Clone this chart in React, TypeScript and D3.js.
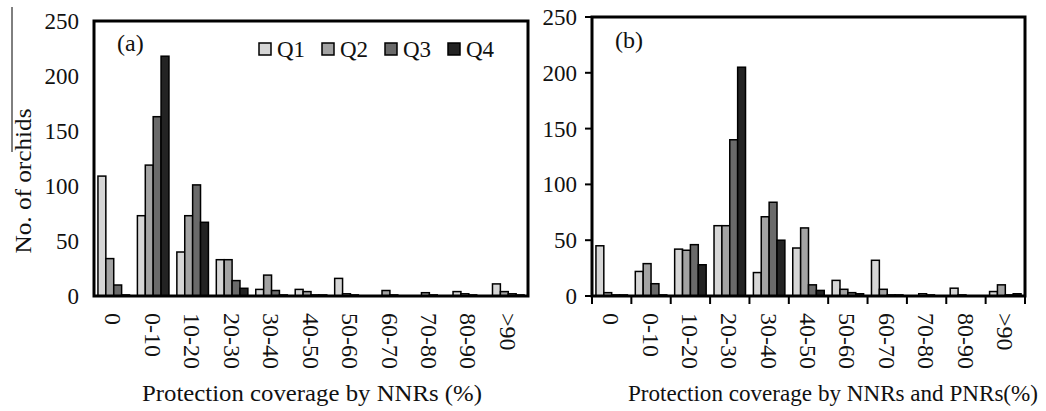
import React from 'react'
import * as d3 from 'd3'

const width = 1046
const height = 411

const categories = ['0', '0-10', '10-20', '20-30', '30-40', '40-50', '50-60', '60-70', '70-80', '80-90', '>90']
const series = ['Q1', 'Q2', 'Q3', 'Q4']
const colors = ['#d6d6d6', '#a3a3a3', '#6a6a6a', '#232323']

// panel (a): NNRs
const nnrQ1 = [109, 73, 40, 33, 6, 6, 16, 0, 0, 4, 11]
const nnrQ2 = [34, 119, 73, 33, 19, 4, 2, 5, 3, 2, 4]
const nnrQ3 = [10, 163, 101, 14, 5, 1, 1, 1, 1, 1, 2]
const nnrQ4 = [1, 218, 67, 7, 1, 1, 0, 0, 0, 0, 1]

// panel (b): NNRs and PNRs
const allQ1 = [45, 22, 42, 63, 21, 43, 14, 32, 0, 7, 4]
const allQ2 = [3, 29, 41, 63, 71, 61, 6, 6, 2, 1, 10]
const allQ3 = [1, 11, 46, 140, 84, 10, 3, 1, 1, 0, 1]
const allQ4 = [1, 1, 28, 205, 50, 5, 2, 1, 0, 0, 2]

const yTicks = [0, 50, 100, 150, 200, 250]
const font = 'Liberation Serif, Times New Roman, serif'

const Panel = ({ left, right, top, bottom, values, label, labelY, title, titleX, titleLen, ticks }) => {
  const x = d3.scaleBand().domain(categories).range([left, right]).padding(0)
  const xs = d3.scaleBand().domain(series).range([0, x.bandwidth()]).paddingInner(0).paddingOuter(0.5)
  const y = d3.scaleLinear().domain([0, 250]).range([bottom, top])

  return (
    <g>
      {categories.map((c, i) =>
        series.map((s, j) => {
          const v = values[j][i]
          return (
            <rect key={c + s} x={x(c) + xs(s)} y={y(v)} width={xs.bandwidth()} height={bottom - y(v)}
              fill={colors[j]} stroke="#000" strokeWidth={1.5} />
          )
        })
      )}
      <rect x={left} y={top} width={right - left} height={bottom - top} fill="none" stroke="#000" strokeWidth={3} />
      {yTicks.map(t =>
        <g key={t}>
          {ticks && <line x1={left - 7} x2={left} y1={y(t)} y2={y(t)} stroke="#000" strokeWidth={2} />}
          <text x={left - 15} y={y(t)} dy="0.35em" textAnchor="end" fontSize={23}>{t}</text>
        </g>
      )}
      {ticks && d3.range(categories.length + 1).map(i => {
        const xx = left + i * x.step()
        return <line key={i} x1={xx} x2={xx} y1={bottom} y2={bottom + 8} stroke="#000" strokeWidth={2} />
      })}
      {categories.map(c =>
        <text key={c} transform={`translate(${x(c) + x.bandwidth() / 2},${bottom + 17}) rotate(90)`}
          dy="0.35em" textAnchor="start" fontSize={24}>{c}</text>
      )}
      <text x={left + 23} y={labelY} fontSize={24}>{label}</text>
      <text x={titleX} y={401} textAnchor="middle" fontSize={23} textLength={titleLen} lengthAdjust="spacingAndGlyphs">{title}</text>
    </g>
  )
}

const App = () => {
  return (
    <svg width={width} height={height} fontFamily={font} fill="#111"
      style={{ position: 'absolute', left: 0, top: 0, background: '#fff' }}>
      <line x1={12} x2={12} y1={7} y2={152} stroke="#000" strokeWidth={1} />
      <text transform="translate(31,181) rotate(-90)" textAnchor="middle" fontSize={24}
        textLength={145} lengthAdjust="spacingAndGlyphs">No. of orchids</text>
      <Panel left={94} right={528} top={21} bottom={296} values={[nnrQ1, nnrQ2, nnrQ3, nnrQ4]}
        label="(a)" labelY={51} title="Protection coverage by NNRs (%)" titleX={312} titleLen={340} ticks={false} />
      <Panel left={592} right={1025} top={17} bottom={296} values={[allQ1, allQ2, allQ3, allQ4]}
        label="(b)" labelY={48} title="Protection coverage by NNRs and PNRs(%)" titleX={833} titleLen={410} ticks={true} />
      {series.map((s, i) =>
        <g key={s} transform={`translate(${259 + i * 63},0)`}>
          <rect x={0} y={43} width={12} height={12} fill={colors[i]} stroke="#000" strokeWidth={1.5} />
          <text x={18} y={57} fontSize={23}>{s}</text>
        </g>
      )}
    </svg>
  )
}

export default App
